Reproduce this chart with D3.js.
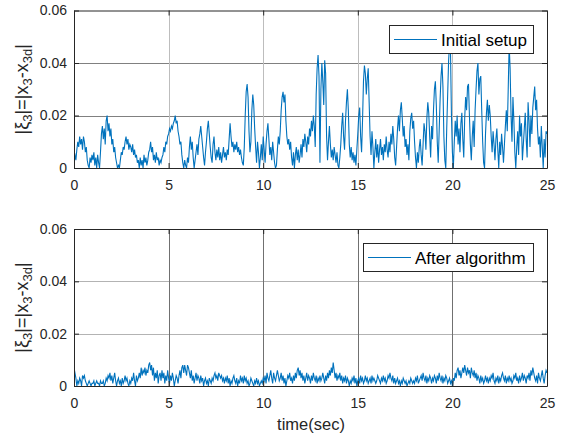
<!DOCTYPE html>
<html>
<head>
<meta charset="utf-8">
<script src="https://cdnjs.cloudflare.com/ajax/libs/d3/7.8.5/d3.min.js"></script>
<style>
  body { margin: 0; background: #fff; }
  svg { display: block; font-family: "Liberation Sans", Arial, sans-serif; }
</style>
</head>
<body>
<div id="chart"></div>
<script>
// sample step of both signals (sec)
var dt = 0.05;
var xTicks = [0, 5, 10, 15, 20, 25];
var yTicks = [0, 0.02, 0.04, 0.06];
var yTickLabels = ["0", "0.02", "0.04", "0.06"];
var legendLabels = ["Initial setup", "After algorithm"];

// |x3 - x3d| in units of 1e-3, one row per second
var initialSetup = [
  4, 5, 3, 7, 10, 8, 12, 9, 11, 7, 12, 10, 6, 8, 3, 1, 0, 4, 2, 5,
  3, 6, 1, 4, 0, 5, 2, 0, 6, 13, 16, 11, 15, 9, 18, 20, 14, 17, 12, 15,
  9, 11, 6, 8, 4, 2, 0, 1, 0, 3, 6, 5, 8, 7, 10, 12, 9, 11, 7, 9,
  8, 6, 9, 5, 7, 4, 5, 2, 3, 0, 4, 1, 3, 0, 5, 2, 4, 1, 3, 6,
  7, 10, 6, 8, 3, 5, 2, 6, 3, 4, 1, 3, 2, 4, 5, 8, 6, 10, 9, 12,
  13, 15, 14, 16, 15, 17, 18, 20, 17, 18, 14, 12, 9, 10, 5, 2, 0, 3, 1, 0,
  4, 2, 8, 12, 7, 10, 4, 0, 3, 6, 9, 5, 11, 13, 16, 12, 8, 4, 1, 6,
  10, 15, 18, 13, 8, 4, 2, 9, 12, 6, 3, 7, 4, 8, 3, 6, 2, 5, 8, 4,
  6, 3, 7, 5, 11, 17, 12, 8, 10, 6, 9, 7, 10, 6, 8, 5, 7, 4, 2, 1,
  8, 20, 29, 32, 27, 14, 6, 10, 22, 28, 24, 15, 8, 2, 10, 6, 0, 4, 9, 3,
  12, 7, 2, 9, 14, 17, 11, 5, 8, 3, 10, 6, 2, 0, 1, 7, 12, 9, 14, 22,
  27, 29, 25, 28, 18, 12, 9, 11, 7, 10, 4, 1, 6, 0, 5, 8, 3, 7, 2, 5,
  9, 4, 11, 8, 13, 10, 6, 12, 9, 15, 12, 18, 14, 20, 16, 8, 28, 38, 43, 35,
  2, 30, 40, 33, 24, 41, 36, 12, 3, 10, 16, 9, 4, 7, 3, 8, 5, 2, 6, 1,
  0, 4, 9, 16, 21, 12, 7, 18, 25, 30, 22, 9, 4, 8, 3, 6, 2, 5, 1, 7,
  13, 20, 23, 12, 6, 18, 33, 39, 36, 28, 34, 38, 25, 12, 5, 14, 8, 0, 6, 11,
  4, 9, 2, 7, 11, 5, 8, 3, 9, 6, 12, 7, 4, 10, 6, 13, 9, 16, 11, 4,
  1, 8, 15, 20, 14, 22, 25, 19, 12, 16, 8, 11, 5, 9, 3, 14, 19, 21, 15, 18,
  10, 4, 0, 6, 2, 8, 11, 5, 1, 9, 17, 14, 7, 19, 25, 21, 12, 4, 16, 11,
  22, 30, 33, 24, 10, 2, 14, 26, 35, 40, 31, 12, 3, 0, 15, 28, 41, 47, 44, 20,
  6, 0, 10, 18, 12, 20, 9, 15, 6, 17, 21, 11, 4, 19, 27, 22, 31, 32, 20, 9,
  3, 12, 18, 8, 22, 30, 37, 40, 28, 34, 35, 22, 10, 2, 0, 13, 21, 26, 18, 24,
  20, 12, 6, 14, 9, 3, 11, 15, 7, 0, 10, 5, 13, 8, 2, 9, 16, 22, 14, 30,
  47, 38, 20, 10, 27, 18, 6, 0, 8, 14, 5, 20, 12, 17, 3, 9, 15, 21, 11, 4,
  25, 18, 8, 20, 13, 23, 27, 31, 22, 26, 15, 9, 12, 4, 16, 8, 0, 11, 4, 14,
  13
];

var afterAlgorithm = [
  7, 5, 3, 0, 2, 1, 3, 2, 0, 4, 3, 4, 2, 1, 0, 1, 2, 1, 0, 1,
  1, 2, 0, 1, 2, 1, 1, 0, 2, 1, 1, 2, 0, 1, 3, 2, 4, 3, 5, 2,
  4, 1, 3, 5, 2, 0, 2, 3, 1, 2, 0, 3, 1, 2, 4, 2, 3, 1, 0, 2,
  1, 3, 2, 5, 2, 0, 4, 2, 3, 5, 3, 7, 4, 6, 5, 7, 4, 6, 5, 8,
  9, 6, 8, 4, 7, 2, 5, 3, 6, 1, 4, 5, 2, 6, 3, 5, 1, 4, 2, 6,
  3, 1, 4, 2, 5, 3, 0, 2, 4, 3, 1, 4, 6, 3, 7, 8, 5, 8, 6, 4,
  8, 7, 5, 3, 6, 2, 4, 1, 3, 5, 2, 4, 3, 1, 4, 2, 3, 0, 2, 3,
  1, 2, 0, 3, 2, 1, 3, 2, 4, 5, 3, 4, 2, 5, 4, 3, 4, 2, 3, 1,
  3, 2, 4, 1, 3, 0, 2, 1, 3, 4, 2, 1, 3, 0, 2, 1, 4, 2, 3, 1,
  4, 2, 3, 1, 2, 0, 1, 3, 2, 1, 0, 2, 1, 3, 1, 2, 0, 1, 2, 1,
  3, 2, 4, 1, 5, 3, 2, 4, 6, 3, 1, 5, 3, 2, 4, 6, 4, 2, 3, 5,
  2, 4, 1, 3, 0, 2, 4, 3, 5, 2, 3, 1, 4, 2, 5, 3, 6, 7, 4, 6,
  3, 5, 2, 4, 1, 3, 5, 2, 4, 3, 1, 4, 2, 5, 3, 2, 4, 1, 3, 2,
  4, 2, 3, 5, 3, 1, 4, 2, 5, 3, 6, 4, 7, 5, 9, 6, 3, 5, 2, 4,
  3, 5, 2, 4, 1, 3, 2, 4, 1, 3, 2, 0, 2, 1, 3, 2, 4, 1, 3, 0,
  2, 3, 1, 4, 2, 3, 1, 2, 4, 2, 3, 1, 2, 3, 1, 4, 2, 3, 2, 1,
  2, 4, 3, 2, 1, 3, 2, 4, 2, 3, 1, 2, 4, 3, 5, 3, 2, 4, 1, 3,
  1, 2, 3, 1, 2, 0, 2, 1, 3, 2, 1, 2, 0, 1, 2, 1, 3, 2, 1, 2,
  1, 3, 2, 4, 1, 2, 3, 4, 2, 5, 3, 2, 4, 1, 3, 2, 4, 3, 1, 3,
  2, 4, 3, 1, 4, 2, 5, 3, 2, 4, 1, 3, 2, 4, 3, 1, 2, 3, 1, 2,
  0, 3, 2, 5, 3, 6, 7, 4, 6, 3, 5, 7, 5, 8, 6, 4, 7, 5, 6, 3,
  7, 5, 4, 6, 3, 5, 2, 4, 3, 1, 4, 2, 3, 1, 2, 4, 2, 3, 1, 3,
  2, 4, 3, 5, 2, 1, 3, 2, 4, 1, 3, 2, 4, 5, 3, 2, 4, 1, 3, 2,
  4, 2, 3, 1, 2, 4, 3, 5, 2, 3, 1, 4, 2, 3, 5, 2, 4, 3, 1, 4,
  3, 5, 2, 6, 4, 7, 5, 3, 2, 4, 1, 5, 3, 2, 4, 6, 3, 1, 4, 6,
  5
];

var lineColor = "#0072bd";
var axisColor = "#262626";

var svg = d3
  .select("#chart")
  .append("svg")
  .attr("width", 561)
  .attr("height", 436);

var x = d3.scaleLinear().domain([0, 25]).range([74, 547]);

drawPanel(initialSetup, 10.5, 168, legendLabels[0], { x: 389, y: 25, w: 144 }, "#808080", "#bdbdbd", "p1");
drawPanel(afterAlgorithm, 229, 386, legendLabels[1], { x: 363, y: 243, w: 170 }, "#b3b3b3", "#707070", "p2");

svg
  .append("text")
  .attr("x", 311)
  .attr("y", 430)
  .attr("text-anchor", "middle")
  .attr("fill", axisColor)
  .style("font-size", "16.5px")
  .text("time(sec)");

function drawPanel(values, top, bottom, label, box, hGridColor, vGridColor, id) {
  var y = d3.scaleLinear().domain([0, 0.06]).range([bottom, top]);
  var g = svg.append("g");

  // grid
  g.selectAll(".hgrid")
    .data(yTicks.slice(1, 3))
    .enter()
    .append("line")
    .attr("x1", x(0))
    .attr("x2", x(25))
    .attr("y1", function (d) { return Math.round(y(d)) + 0.5; })
    .attr("y2", function (d) { return Math.round(y(d)) + 0.5; })
    .attr("stroke", hGridColor);

  g.selectAll(".vgrid")
    .data(xTicks.slice(1, 5))
    .enter()
    .append("line")
    .attr("x1", function (d) { return Math.round(x(d)) + 0.5; })
    .attr("x2", function (d) { return Math.round(x(d)) + 0.5; })
    .attr("y1", top)
    .attr("y2", bottom)
    .attr("stroke", vGridColor);

  g.append("clipPath")
    .attr("id", id)
    .append("rect")
    .attr("x", x(0))
    .attr("y", top)
    .attr("width", x(25) - x(0))
    .attr("height", bottom - top);

  var line = d3
    .line()
    .x(function (d, i) { return x(i * dt); })
    .y(function (d) { return y(d / 1000); });

  g.append("path")
    .datum(values)
    .attr("clip-path", "url(#" + id + ")")
    .attr("d", line)
    .attr("fill", "none")
    .attr("stroke", lineColor)
    .attr("stroke-width", 1.1)
    .attr("stroke-linejoin", "miter");

  // axes, ticks inward like matlab
  var xAxis = g
    .append("g")
    .attr("transform", "translate(0," + bottom + ")")
    .call(d3.axisBottom(x).tickValues(xTicks).tickSize(-5).tickPadding(12).tickSizeOuter(0));
  g.append("g")
    .attr("transform", "translate(0," + top + ")")
    .call(d3.axisTop(x).tickValues(xTicks).tickSize(-5).tickFormat("").tickSizeOuter(0));
  g.append("g")
    .attr("transform", "translate(" + x(0) + ",0)")
    .call(
      d3.axisLeft(y)
        .tickValues(yTicks)
        .tickSize(-5)
        .tickPadding(7)
        .tickSizeOuter(0)
        .tickFormat(function (d, i) { return yTickLabels[i]; })
    );
  g.append("g")
    .attr("transform", "translate(" + x(25) + ",0)")
    .call(d3.axisRight(y).tickValues(yTicks).tickSize(-5).tickFormat("").tickSizeOuter(0));

  g.selectAll(".domain").attr("stroke", axisColor);
  g.selectAll(".tick line").attr("stroke", axisColor);
  g.selectAll(".tick text")
    .attr("fill", axisColor)
    .style("font-size", "14px")
    .style("font-family", "'Liberation Sans', Arial, sans-serif");

  // y label |xi_3| = |x_3 - x_3d|
  var yl = g
    .append("text")
    .attr("transform", "translate(28," + (top + bottom) / 2 + ") rotate(-90)")
    .attr("text-anchor", "middle")
    .attr("fill", axisColor)
    .style("font-size", "18px");
  var parts = [["|ξ", 0], ["3", 1], ["|=|x", 0], ["3", 1], ["-x", 0], ["3d", 1], ["|", 0]];
  parts.forEach(function (p) {
    yl.append("tspan")
      .attr("baseline-shift", p[1] ? "-30%" : null)
      .style("font-size", p[1] ? "13px" : null)
      .text(p[0]);
  });

  // legend
  var lg = g.append("g");
  lg.append("rect")
    .attr("x", box.x + 0.5)
    .attr("y", box.y + 0.5)
    .attr("width", box.w)
    .attr("height", 28)
    .attr("fill", "#fff")
    .attr("stroke", axisColor);
  lg.append("line")
    .attr("x1", box.x + 5)
    .attr("x2", box.x + 48)
    .attr("y1", box.y + 14.5)
    .attr("y2", box.y + 14.5)
    .attr("stroke", lineColor);
  lg.append("text")
    .attr("x", box.x + 52)
    .attr("y", box.y + 20.5)
    .attr("fill", "#000")
    .style("font-size", "17px")
    .text(label);
}
</script>
</body>
</html>
